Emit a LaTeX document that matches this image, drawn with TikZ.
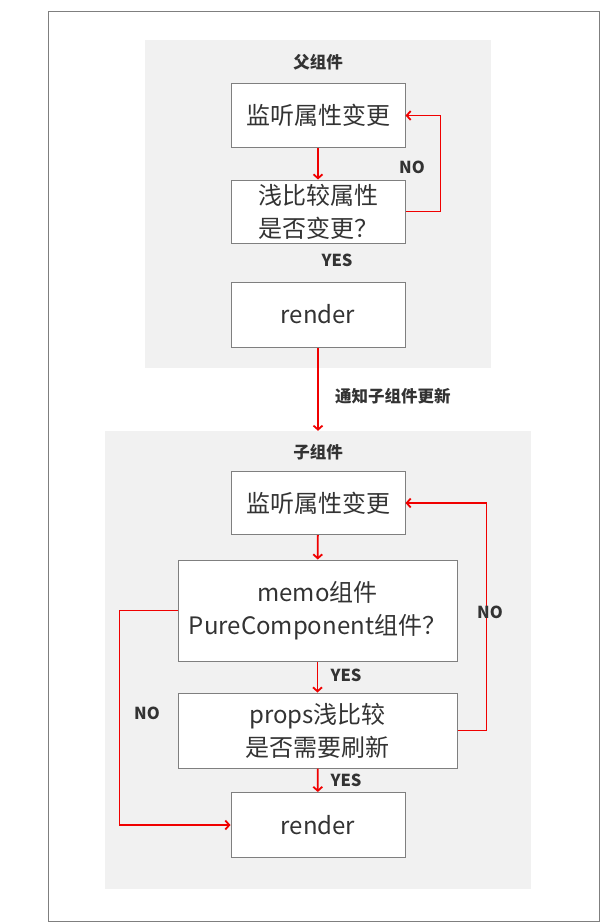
\documentclass[tikz,border=0pt]{standalone}
\usepackage{fontspec}
\setmainfont{Noto Sans CJK SC}
\usetikzlibrary{arrows.meta}
\definecolor{flowred}{HTML}{F00000}
\definecolor{panelgray}{HTML}{F1F1F1}
\definecolor{edgegray}{HTML}{7F7F7F}
\definecolor{inkgray}{HTML}{333333}

\begin{document}
\begin{tikzpicture}[x=1pt, y=-1pt,
  panel/.style={fill=panelgray, inner sep=0pt},
  stepbox/.style={draw=edgegray, line width=1pt, fill=white, text=inkgray, align=center,
    font=\fontsize{24}{33}\selectfont, inner sep=0pt},
  tag/.style={text=inkgray, font=\fontsize{16.5}{20}\selectfont\bfseries, inner sep=0pt},
  flow/.style={draw=flowred, line width=1.8pt, -{Straight Barb[length=4pt,width=9pt]}}]
  \useasboundingbox (0,0) rectangle (600,923);
  \draw[edgegray, line width=1pt] (48,12) rectangle (599,921);

  % parent component
  \node[panel, minimum width=346pt, minimum height=328pt] (parent) at (318,204) {};
  \node[tag] (parentTitle) at (318,62) {父组件};
  \node[stepbox, minimum width=174pt, minimum height=63pt] (pListen) at (318,115.5) {监听属性变更};
  \node[stepbox, minimum width=174pt, minimum height=63pt] (pCompare) at (318,211.5) {浅比较属性\\是否变更？};
  \node[stepbox, minimum width=174pt, minimum height=65pt] (pRender) at (318,314.5) {render};
  \node[tag] (pNo) at (412,167) {NO};
  \node[tag] (pYes) at (337,260) {YES};

  % child component
  \node[panel, minimum width=426pt, minimum height=458pt] (child) at (318,660) {};
  \node[tag] (childTitle) at (318,452) {子组件};
  \node[stepbox, minimum width=174pt, minimum height=63pt] (cListen) at (318,503) {监听属性变更};
  \node[stepbox, minimum width=279pt, minimum height=101pt] (cMemo) at (317.5,610.5) {memo组件\\PureComponent组件？};
  \node[stepbox, minimum width=279pt, minimum height=75pt] (cProps) at (317.5,730.5) {props浅比较\\是否需要刷新};
  \node[stepbox, minimum width=174pt, minimum height=65pt] (cRender) at (318,825) {render};

  % connectors
  \draw[flow] (pListen) -- (pCompare);
  \draw[flow] (pCompare.east) -- ++(35,0) |- (pListen.east);
  \draw[flow] (pRender) -- (child.north);
  \draw[flow] (cListen) -- (cMemo);
  \draw[flow] (cMemo) -- (cProps);
  \draw[flow] (cProps) -- (cRender);
  \draw[flow] (cProps.east) -- ++(29,0) |- (cListen.east);
  \draw[flow] (cMemo.west) -- ++(-58,0) |- (cRender.west);

  \node[tag, anchor=west] (notify) at (335,396) {通知子组件更新};
  \node[tag] (cYesA) at (346,675) {YES};
  \node[tag] (cYesB) at (346,780) {YES};
  \node[tag] (cNoR) at (490,612) {NO};
  \node[tag] (cNoL) at (147,713) {NO};
\end{tikzpicture}
\end{document}
